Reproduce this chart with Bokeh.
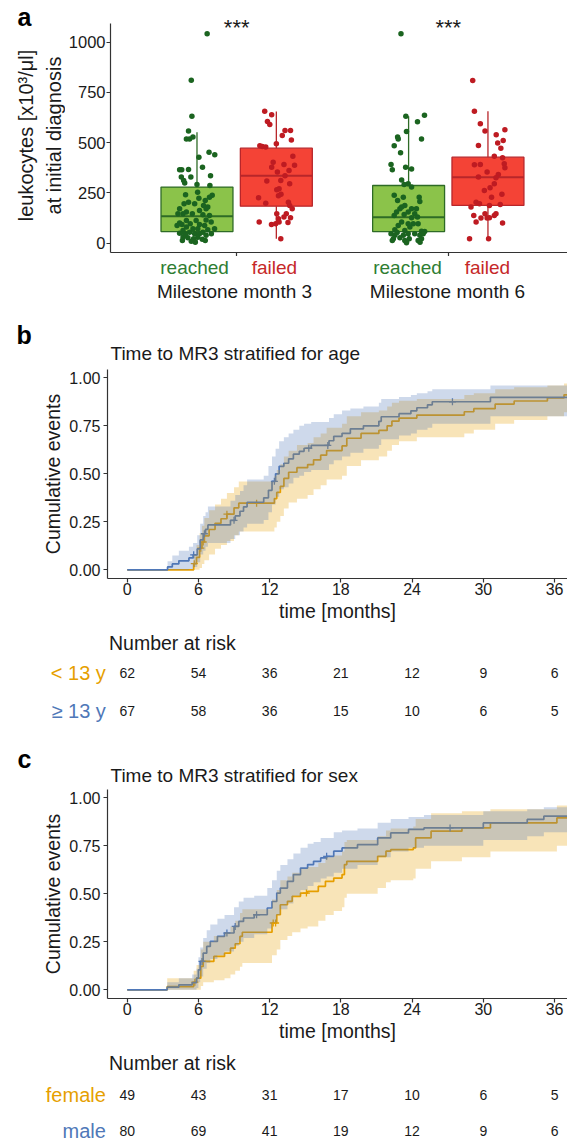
import numpy as np
from bokeh.plotting import figure
from bokeh.models import Range1d, FixedTicker, NumeralTickFormatter
from bokeh.layouts import column, row
from bokeh.embed import file_html
from bokeh.resources import INLINE
from bokeh.core.properties import value

FONT = "Liberation Sans"
AXIS_COL = "#333333"
TXT = "#1a1a1a"
W = 567

# ---------------- Panel a data ----------------
milestones = ["Milestone month 3", "Milestone month 6"]
milestone_pos = [1, 2]
significance = ["***", "***"]
wbc_ticks = [0, 250, 500, 750, 1000]
wbc_title = ["leukocytes [x10³/μl]", "at initial diagnosis"]

wbc_m3_reached = [1042, 811, 632, 558, 519, 519, 528, 453, 440, 427, 378, 365, 365, 367, 335, 329, 329, 312, 299, 292,
                  287, 254, 241, 238, 229, 224, 204, 213, 196, 196, 188, 180, 171, 155, 163, 171, 146, 146, 146, 141,
                  138, 113, 113, 116, 105, 100, 93, 97, 93, 88, 80, 88, 72, 72, 72, 63, 67, 50, 47, 55,
                  47, 47, 55, 39, 47, 30, 27, 22, 30, 20, 14, 14, 5, 10, 39]
jit_m3_reached = [0.048, -0.027, -0.024, -0.040, -0.050, -0.035, -0.019, 0.057, 0.084, 0.009, 0.026, -0.082, -0.072, -0.040, 0.064, -0.074, -0.029, -0.063, -0.058, 0.000,
                  0.061, 0.003, -0.054, 0.072, 0.059, 0.009, -0.040, 0.039, -0.061, -0.011, 0.031, 0.051, -0.082, -0.050, 0.012, 0.043, -0.090, -0.066, -0.022, 0.028,
                  0.059, -0.050, -0.004, 0.043, 0.067, -0.082, -0.071, -0.032, 0.012, 0.036, -0.050, -0.094, -0.019, 0.004, 0.083, -0.066, 0.051, -0.082, -0.058, -0.035,
                  -0.011, 0.012, 0.028, 0.043, 0.068, -0.066, -0.043, -0.016, 0.004, 0.025, 0.039, -0.069, -0.008, -0.027, -0.054]
wbc_m3_failed = [657, 639, 606, 591, 561, 561, 536, 495, 514, 485, 481, 478, 432, 403, 392, 388, 378, 354, 362, 335,
                 309, 312, 296, 271, 243, 266, 236, 226, 199, 204, 188, 171, 146, 146, 121, 130, 126, 97, 105, 105,
                 93, 103, 22]
jit_m3_failed = [-0.055, -0.022, -0.042, -0.031, 0.041, 0.067, 0.028, 0.000, 0.071, -0.078, -0.066, -0.050, 0.078, -0.015, 0.036, 0.086, -0.022, 0.005, 0.060, 0.041,
                 -0.045, 0.021, 0.063, 0.013, 0.022, 0.002, 0.010, -0.084, -0.050, 0.057, 0.063, 0.075, 0.047, 0.002, 0.010, 0.036, 0.067, -0.003, 0.013, -0.081,
                 -0.023, 0.055, 0.021]
wbc_m6_reached = [1042, 632, 637, 604, 556, 528, 519, 519, 485, 450, 392, 378, 365, 369, 315, 292, 296, 279, 238, 229,
                  229, 213, 208, 188, 171, 171, 138, 143, 146, 105, 97, 97, 97, 88, 80, 67, 63, 60, 58, 53,
                  47, 39, 39, 47, 47, 39, 47, 22, 27, 22, 14, 22, 14, 14, 5, 2, 171, 155, 155, 130, 126, 180]
jit_m6_reached = [-0.036, -0.013, 0.075, 0.042, -0.010, -0.052, -0.049, 0.061, -0.068, -0.038, -0.083, -0.014, -0.077, 0.014, -0.033, -0.021, -0.002, 0.014, -0.068, -0.025,
                  0.050, -0.052, 0.053, -0.018, 0.014, 0.037, -0.068, -0.021, 0.029, -0.033, -0.002, 0.022, 0.045, -0.049, 0.006, -0.065, -0.018, 0.061, 0.076, -0.054,
                  -0.083, -0.065, -0.025, -0.002, 0.029, 0.053, 0.069, -0.072, -0.041, 0.003, 0.045, 0.061, -0.077, -0.018, 0.054, -0.010, -0.041, -0.002, -0.057, 0.042,
                  0.014, -0.033]
wbc_m6_failed = [810, 657, 594, 558, 564, 539, 486, 511, 498, 473, 432, 390, 392, 395, 425, 354, 342, 325, 329, 375,
                 296, 262, 204, 243, 276, 229, 196, 180, 188, 193, 146, 138, 126, 146, 138, 105, 125, 125, 100, 22, 22]
jit_m6_failed = [-0.072, -0.064, -0.036, -0.014, 0.080, 0.039, -0.045, 0.072, 0.046, 0.061, 0.030, -0.064, -0.036, 0.077, 0.069, -0.004, 0.049, 0.038, -0.045, 0.080,
                 0.030, -0.017, -0.056, 0.066, 0.010, 0.017, -0.040, -0.080, 0.007, 0.058, -0.014, -0.067, 0.007, 0.038, 0.030, -0.056, -0.033, -0.004, 0.069, -0.087,
                 0.003]

# box statistics: [M3 reached, M3 failed, M6 reached, M6 failed]
box_group = [1, 1, 2, 2]
box_status = ["reached", "failed", "reached", "failed"]
box_low = [5, 22, 2, 22]
box_q1 = [58, 184, 58, 188]
box_median = [134, 335, 129, 328]
box_q3 = [279, 473, 287, 428]
box_high = [552, 655, 632, 657]

# ---------------- Kaplan-Meier data ----------------
km_titles = ["Time to MR3 stratified for age", "Time to MR3 stratified for sex"]
month_ticks = [0, 6, 12, 18, 24, 30, 36]
cum_ticks = [0, 0.25, 0.5, 0.75, 1.0]

# b: age < 13 y
age_lt_t = [0, 5.6, 5.84, 6.1, 6.3, 6.5, 6.9, 7.4, 7.9, 8.4, 9.0, 9.4, 12.4, 12.6, 12.9, 13.2, 13.6, 14.3, 15.2, 15.7,
            16.3, 16.8, 18.1, 18.5, 19.7, 21.2, 21.9, 22.3, 22.9, 24.4, 28.4, 29.2, 31.0, 32.6, 35.4, 36.8, 38.0]
age_lt_f = [0, .032, .065, .113, .145, .177, .210, .242, .266, .290, .323, .347, .371, .403, .435, .476, .508, .532, .548, .573,
            .597, .621, .645, .685, .710, .726, .750, .774, .790, .806, .823, .839, .863, .879, .895, .911, .911]
age_lt_lo = [0, 0, 0, .01, .03, .05, .08, .11, .13, .15, .18, .20, .22, .25, .28, .32, .35, .37, .39, .42,
             .44, .47, .49, .54, .57, .59, .62, .65, .67, .69, .71, .73, .76, .78, .80, .82, .82]
age_lt_hi = [0, .08, .13, .19, .23, .27, .31, .34, .37, .40, .43, .46, .49, .52, .55, .59, .62, .65, .66, .69,
             .71, .74, .76, .80, .82, .83, .85, .87, .88, .89, .91, .92, .94, .95, .96, .97, .97]
age_lt_cens = [5.65, 6.2, 6.4, 8.4, 10.9]

# b: age >= 13 y
age_ge_t = [0, 3.4, 3.8, 4.35, 5.2, 5.55, 5.9, 6.15, 6.4, 6.6, 6.8, 8.7, 9.1, 9.5, 9.8, 10.1, 11.5, 11.9, 12.2, 12.5,
            12.8, 13.2, 13.6, 14.0, 14.5, 14.9, 15.5, 17.0, 17.4, 18.1, 18.8, 19.9, 21.2, 21.4, 22.9, 23.9, 24.4, 25.3, 25.7, 30.6, 38.0]
age_ge_f = [0, .015, .031, .047, .062, .078, .109, .156, .188, .211, .234, .258, .281, .305, .328, .352, .375, .414, .461, .500,
            .539, .555, .578, .602, .617, .633, .648, .672, .695, .711, .734, .750, .773, .797, .813, .828, .844, .859, .875, .898, .898]
age_ge_lo = [0, 0, 0, 0, .005, .015, .04, .08, .10, .12, .14, .16, .18, .20, .22, .24, .26, .30, .34, .38,
             .42, .43, .45, .48, .49, .51, .52, .55, .57, .59, .61, .63, .65, .68, .70, .71, .73, .74, .76, .80, .80]
age_ge_hi = [0, .045, .075, .10, .12, .14, .18, .24, .28, .30, .33, .36, .39, .41, .44, .47, .49, .54, .59, .63,
             .67, .69, .71, .73, .75, .76, .77, .79, .81, .83, .84, .85, .87, .89, .90, .91, .92, .93, .94, .96, .96]
age_ge_cens = [5.6, 6.5, 9.0, 12.4, 15.3, 16.9, 27.4]

# c: female
fem_t = [0, 3.37, 5.6, 5.84, 6.2, 6.4, 7.3, 8.2, 8.7, 9.1, 9.5, 9.7, 12.2, 12.6, 12.9, 13.5, 13.9, 14.6, 15.2, 16.1,
         16.7, 17.4, 18.1, 18.3, 18.5, 21.1, 21.8, 22.2, 24.1, 24.3, 25.6, 28.2, 30.6, 36.2, 38.0]
fem_f = [0, .017, .040, .061, .122, .148, .174, .191, .217, .240, .278, .300, .348, .391, .443, .461, .487, .504, .513, .539,
         .565, .582, .600, .652, .669, .695, .722, .730, .739, .791, .826, .843, .869, .895, .895]
fem_lo = [0, 0, 0, 0, .02, .04, .05, .06, .08, .10, .12, .14, .18, .21, .26, .28, .30, .32, .33, .36,
          .39, .41, .43, .48, .50, .53, .56, .57, .58, .63, .67, .69, .72, .75, .75]
fem_hi = [0, .06, .10, .13, .21, .25, .28, .30, .33, .36, .40, .42, .47, .52, .57, .59, .61, .63, .64, .66,
          .69, .70, .72, .77, .78, .80, .83, .84, .85, .89, .92, .93, .94, .96, .96]
fem_cens = [5.7, 6.4, 12.3, 12.5, 15.1]

# c: male
male_t = [0, 3.37, 4.35, 5.47, 5.84, 6.0, 6.15, 6.4, 6.7, 7.0, 7.6, 8.2, 9.0, 9.4, 9.8, 10.7, 11.8, 12.2, 12.6, 12.9,
          13.5, 14.0, 14.6, 15.2, 15.7, 16.3, 16.8, 17.4, 18.1, 19.4, 21.1, 22.2, 23.7, 25.0, 30.0, 33.7, 35.1, 38.0]
male_f = [0, .014, .026, .038, .061, .104, .148, .191, .226, .252, .278, .296, .330, .356, .374, .391, .426, .460, .504, .530,
          .565, .600, .634, .652, .669, .687, .695, .722, .739, .756, .791, .817, .835, .843, .869, .887, .904, .904]
male_lo = [0, 0, 0, 0, .01, .04, .07, .11, .14, .16, .18, .20, .23, .25, .27, .29, .32, .35, .39, .42,
           .45, .49, .52, .54, .56, .58, .59, .61, .63, .65, .69, .72, .74, .75, .78, .80, .82, .82]
male_hi = [0, .04, .06, .08, .11, .17, .22, .27, .31, .34, .37, .39, .43, .46, .48, .49, .53, .57, .62, .65,
           .68, .71, .74, .76, .77, .79, .79, .82, .83, .84, .87, .89, .90, .91, .93, .94, .95, .95]
male_cens = [6.3, 8.4, 9.1, 10.9, 16.8, 27.2]

# risk tables
risk_times = [0, 6, 12, 18, 24, 30, 36]
risk_age_lt = [62, 54, 36, 21, 12, 9, 6]
risk_age_ge = [67, 58, 36, 15, 10, 6, 5]
risk_female = [49, 43, 31, 17, 10, 6, 5]
risk_male = [80, 69, 41, 19, 12, 9, 6]

ORANGE = "#E69F00"
BLUE = "#4F78B8"
GREEN_FILL, GREEN_LINE, GREEN_PT, GREEN_TXT = "#8BC34A", "#2E6B26", "#1B6420", "#2E7D32"
RED_FILL, RED_LINE, RED_PT, RED_TXT = "#F44336", "#B8262A", "#BE1B22", "#C62828"

# scales shared by the panels (data units per frame)
BOX_X = (0.4038, 2.5634)        # panel a frame spans x = 107..567 px
BOX_X_FULL = (-0.0986, 2.5634)  # same mapping over the full width 0..567 px
KM_X = (-1.66, 37.093)          # KM frame 107..567 px
KM_X_FULL = (-10.674, 37.093)   # same mapping over the full width
LEFT_W = 65                     # width of the column holding letter a and the y title of panel a


def style_axes(p):
    for ax in list(p.xaxis) + list(p.yaxis):
        ax.axis_line_color = AXIS_COL
        ax.axis_line_width = 1.2
        ax.major_tick_line_color = AXIS_COL
        ax.major_tick_line_width = 1.2
        ax.major_tick_out = 4
        ax.major_tick_in = 0
        ax.minor_tick_line_color = None
        ax.major_label_text_font = FONT
        ax.axis_label_text_font = FONT
        ax.axis_label_text_font_style = "normal"
        ax.major_label_text_color = TXT
        ax.axis_label_text_color = TXT
    p.xgrid.visible = False
    p.ygrid.visible = False
    p.outline_line_color = None


def blank_fig(height, x_range, y_range, top=0, with_title=False, width=W):
    kw = {} if with_title else {"title": None}
    p = figure(width=width, height=height, x_range=Range1d(*x_range), y_range=Range1d(*y_range),
               x_axis_type=None, y_axis_type=None, output_backend="svg", toolbar_location=None,
               min_border_left=0, min_border_right=0, min_border_top=top, min_border_bottom=0,
               frame_align=False, **kw)
    p.outline_line_color = None
    return p


def txt(p, x, y, text, size, color=TXT, align="center", style="normal", angle=0.0):
    p.text(x=x, y=y, text=text, text_color=color, text_align=align, text_baseline="middle",
           text_font=value(FONT), text_font_size=value(size), text_font_style=style, angle=angle)


DODGE = 0.1875
box_x = [g + (-DODGE if s == "reached" else DODGE) for g, s in zip(box_group, box_status)]

# ---------------- left column of panel a: letter + y title ----------------
pl = blank_fig(256, (0, LEFT_W), (256, 0), width=LEFT_W)
txt(pl, [17], [16.5], ["a"], "25px", color="black", align="left", style="bold")
txt(pl, [25, 53], [135, 135], wbc_title, "20px", angle=np.pi / 2)

# ---------------- Panel a ----------------
pa = figure(width=W - LEFT_W, height=256, x_range=Range1d(*BOX_X), y_range=Range1d(-46.3, 1207.5), title=None,
            output_backend="svg", toolbar_location=None, frame_align=False,
            min_border_left=107 - LEFT_W, min_border_right=0, min_border_top=0, min_border_bottom=4)
style_axes(pa)
pa.yaxis.ticker = FixedTicker(ticks=wbc_ticks)
pa.yaxis.bounds = (-46.3, 1093)
pa.yaxis.major_label_text_font_size = "16.5px"
pa.yaxis.major_label_standoff = 1
pa.xaxis.ticker = FixedTicker(ticks=[], minor_ticks=milestone_pos)
pa.xaxis.minor_tick_line_color = AXIS_COL
pa.xaxis.minor_tick_line_width = 1.2
pa.xaxis.minor_tick_out = 4
pa.xaxis.minor_tick_in = 0
pa.xaxis.major_label_standoff = 0

box_fill = [GREEN_FILL if s == "reached" else RED_FILL for s in box_status]
box_line = [GREEN_LINE if s == "reached" else RED_LINE for s in box_status]
pa.segment(x0=box_x, y0=box_q3, x1=box_x, y1=box_high, line_color=box_line, line_width=1.3)
pa.segment(x0=box_x, y0=box_q1, x1=box_x, y1=box_low, line_color=box_line, line_width=1.3)
pa.vbar(x=box_x, width=0.34, bottom=box_q1, top=box_q3, fill_color=box_fill, line_color=box_line, line_width=1.3)
pa.segment(x0=[x - 0.17 for x in box_x], y0=box_median, x1=[x + 0.17 for x in box_x], y1=box_median,
           line_color=box_line, line_width=2)

for vals, jit, grp, st in [(wbc_m3_reached, jit_m3_reached, 1, "reached"), (wbc_m3_failed, jit_m3_failed, 1, "failed"),
                           (wbc_m6_reached, jit_m6_reached, 2, "reached"), (wbc_m6_failed, jit_m6_failed, 2, "failed")]:
    cx = grp + (-DODGE if st == "reached" else DODGE)
    pa.scatter(x=[cx + j for j in jit], y=vals, size=5.5,
               fill_color=GREEN_PT if st == "reached" else RED_PT, line_color=None)

txt(pa, milestone_pos, [1075, 1075], significance, "22px")

# ------- category labels under panel a, then letter b and title of panel b -------
ps = blank_fig(110, BOX_X_FULL, (110, 0))
txt(ps, box_x, [11] * 4, box_status, "19px",
    color=[GREEN_TXT if s == "reached" else RED_TXT for s in box_status])
txt(ps, milestone_pos, [35, 35], milestones, "19px")
txt(ps, [-0.0235], [78.3], ["b"], "25px", color="black", align="left", style="bold")
txt(ps, [0.4178], [97], [km_titles[0]], "19px", align="left")


# ---------------- KM panels ----------------
def km_panel(height, groups):
    p = figure(width=W, height=height, x_range=Range1d(*KM_X), y_range=Range1d(-0.045, 1.043), title=None,
               output_backend="svg", toolbar_location=None, frame_align=False,
               min_border_left=107, min_border_right=0, min_border_top=3, min_border_bottom=46)
    style_axes(p)
    p.xaxis.ticker = FixedTicker(ticks=month_ticks)
    p.yaxis.ticker = FixedTicker(ticks=cum_ticks)
    p.yaxis.formatter = NumeralTickFormatter(format="0.00")
    p.xaxis.major_label_text_font_size = "16px"
    p.yaxis.major_label_text_font_size = "16px"
    p.xaxis.major_label_standoff = 0
    p.yaxis.major_label_standoff = 3
    p.xaxis.axis_label = "time [months]"
    p.yaxis.axis_label = "Cumulative events"
    p.xaxis.axis_label_text_font_size = "19.5px"
    p.yaxis.axis_label_text_font_size = "19.5px"
    p.xaxis.axis_label_standoff = 2
    p.yaxis.axis_label_standoff = 2
    for t, f, lo, hi, cens, col in groups:
        p.step(x=t, y=f, mode="after", line_color=col, line_width=1.7)
        ta = np.array(t)
        fa = np.array(f)
        cy = fa[np.searchsorted(ta, np.array(cens), side="right") - 1]
        p.scatter(x=cens, y=cy, marker="cross", size=7, line_color=col, line_width=1.3)
    for t, f, lo, hi, cens, col in groups:
        p.varea_step(x=t, y1=lo, y2=hi, step_mode="after", fill_color=col, fill_alpha=0.28)
    return p


def risk_panel(height, y_range, labels, colors, rows, letter=None, letter_y=None, title=None, title_y=None):
    p = blank_fig(height, KM_X_FULL, y_range, top=30, with_title=True)
    p.title.text = "Number at risk"
    p.title.align = "left"
    p.title.offset = 108.5
    p.title.standoff = 1
    p.title.text_font = FONT
    p.title.text_font_size = "19.5px"
    p.title.text_font_style = "normal"
    p.title.text_color = TXT
    for i, (lab, col, vals) in enumerate(zip(labels, colors, rows)):
        y = i + 1
        txt(p, [-1.8], [y], [lab], "20px", color=col, align="right")
        txt(p, risk_times, [y] * len(risk_times), [str(v) for v in vals], "14px")
    if letter:
        txt(p, [-9.24], [letter_y], [letter], "25px", color="black", align="left", style="bold")
    if title:
        txt(p, [-1.407], [title_y], [title], "19px", align="left")
    return p


pb = km_panel(258, [(age_lt_t, age_lt_f, age_lt_lo, age_lt_hi, age_lt_cens, ORANGE),
                    (age_ge_t, age_ge_f, age_ge_lo, age_ge_hi, age_ge_cens, BLUE)])
pbr = risk_panel(162, (3.961, 0.5234), ["< 13 y", "≥ 13 y"], [ORANGE, BLUE], [risk_age_lt, risk_age_ge],
                 letter="c", letter_y=3.240, title=km_titles[1], title_y=3.674)
pc = km_panel(258, [(fem_t, fem_f, fem_lo, fem_hi, fem_cens, ORANGE),
                    (male_t, male_f, male_lo, male_hi, male_cens, BLUE)])
pcr = risk_panel(98, (2.336, 0.4314), ["female", "male"], [ORANGE, BLUE], [risk_female, risk_male])

layout = column(row(pl, pa, spacing=0), ps, pb, pbr, pc, pcr, spacing=0)
open("out.html", "w").write(file_html(layout, INLINE))
